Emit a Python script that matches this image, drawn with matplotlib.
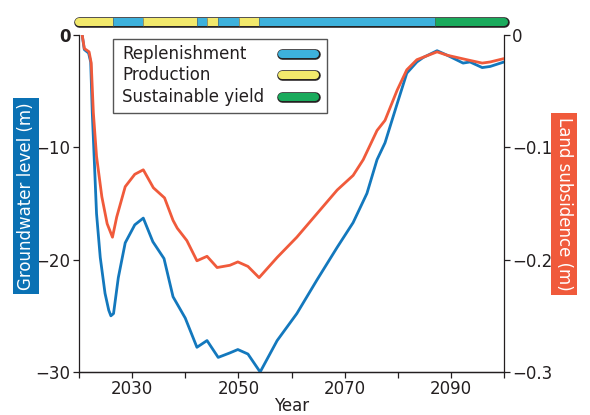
import matplotlib
matplotlib.use("Agg")
import matplotlib.pyplot as plt
from matplotlib.lines import Line2D
from matplotlib.patches import Rectangle

# groundwater level (left axis, m)
gw_year = [2020.6, 2021.0, 2021.8, 2022.2, 2022.5, 2022.9, 2023.3, 2024.0, 2024.9,
           2025.6, 2026.0, 2026.5, 2027.4, 2028.7, 2030.5, 2032.1, 2033.9, 2036.0, 2037.7,
           2040.0, 2042.2, 2044.1, 2046.2, 2048.4, 2049.9, 2051.8, 2054.1, 2057.3,
           2061.0, 2064.8, 2068.6, 2071.6, 2074.2, 2076.1, 2077.6, 2079.9, 2081.7,
           2083.6, 2084.8, 2087.4, 2089.3, 2092.3, 2093.6, 2095.9, 2097.4, 2100.0]
gw_level = [0, -1.3, -1.6, -2.4, -6.9, -11.4, -15.9, -19.8, -23.0,
            -24.5, -25.0, -24.8, -21.6, -18.5, -16.9, -16.3, -18.4, -19.9, -23.3,
            -25.2, -27.8, -27.2, -28.7, -28.3, -28.0, -28.4, -30.0, -27.2,
            -24.8, -21.8, -18.9, -16.7, -14.1, -11.1, -9.6, -6.1, -3.4,
            -2.4, -2.0, -1.4, -1.8, -2.5, -2.4, -2.9, -2.8, -2.4]

# land subsidence (right axis, m)
ls_year = [2020.6, 2021.0, 2021.9, 2022.3, 2022.7, 2023.3, 2024.3, 2025.3, 2026.3,
           2027.1, 2028.7, 2030.5, 2032.1, 2034.0, 2036.1, 2037.7, 2038.5, 2040.3,
           2042.2, 2044.1, 2046.0, 2048.4, 2049.9, 2051.8, 2053.9, 2057.3, 2061.0,
           2064.8, 2068.6, 2071.6, 2073.5, 2076.1, 2077.6, 2079.9, 2081.7, 2083.6,
           2087.4, 2089.3, 2093.0, 2095.9, 2097.4, 2100.0]
ls_depth = [0, -0.012, -0.015, -0.025, -0.069, -0.108, -0.144, -0.168, -0.180,
            -0.162, -0.135, -0.124, -0.120, -0.136, -0.145, -0.165, -0.172, -0.183,
            -0.201, -0.197, -0.207, -0.205, -0.202, -0.206, -0.216, -0.198, -0.180,
            -0.159, -0.138, -0.125, -0.111, -0.085, -0.076, -0.049, -0.031, -0.022,
            -0.015, -0.018, -0.022, -0.025, -0.024, -0.021]

# pumping regime strip above the plot
phase_start = [2020.0, 2026.4, 2032.0, 2042.2, 2044.1, 2046.2, 2050.1, 2053.9, 2087.0]
phase_end = [2026.4, 2032.0, 2042.2, 2044.1, 2046.2, 2050.1, 2053.9, 2087.0, 2100.0]
phase_kind = ["Production", "Replenishment", "Production", "Replenishment", "Production",
              "Replenishment", "Production", "Replenishment", "Sustainable yield"]
legend_kinds = ["Replenishment", "Production", "Sustainable yield"]

x_ticks = [2020, 2030, 2040, 2050, 2060, 2070, 2080, 2090, 2100]
x_labels = ["", "2030", "", "2050", "", "2070", "", "2090", ""]
left_ticks = [0, -10, -20, -30]
left_labels = ["0", "\u221210", "\u221220", "\u221230"]
right_ticks = [0, -0.1, -0.2, -0.3]
right_labels = ["0", "\u22120.1", "\u22120.2", "\u22120.3"]

KIND_COLORS = {"Replenishment": "#3db1dc", "Production": "#f2e96c", "Sustainable yield": "#1aaa5c"}
BLUE = "#1378bd"
RED = "#f05a3b"
INK = "#231f20"

plt.rcParams['font.family'] = ['DejaVu Sans']
plt.rcParams['font.size'] = 12

fig = plt.figure(figsize=(5.9, 4.15), dpi=100)
ax = fig.add_axes([79/590, 1 - 372/415, 425/590, 337/415])
ax2 = ax.twinx()

ax.plot(gw_year, gw_level, color=BLUE, lw=2.0, zorder=3, solid_joinstyle='round')
ax2.plot(ls_year, ls_depth, color=RED, lw=2.0, zorder=4, solid_joinstyle='round')

ax.set_xlim(2020, 2100)
ax.set_ylim(-30, 0)
ax2.set_ylim(-0.3, 0)
ax.set_xticks(x_ticks)
ax.set_xticklabels(x_labels)
ax.set_yticks(left_ticks)
ax.set_yticklabels(left_labels)
ax.get_yticklabels()[0].set_fontweight('bold')
ax2.set_yticks(right_ticks)
ax2.set_yticklabels(right_labels)

for a in (ax, ax2):
    a.spines['top'].set_visible(False)
    for s in a.spines.values():
        s.set_linewidth(0.9)
        s.set_color(INK)
    a.tick_params(direction='out', length=4, width=0.9, color=INK, labelcolor=INK,
                  labelsize=12, pad=2)
ax.spines['right'].set_visible(False)
ax2.spines['left'].set_visible(False)
ax.set_xlabel("Year", fontsize=12, labelpad=-1, color=INK)

# coloured axis titles
fig.text(26/590, 1 - 196/415, "Groundwater level (m)", rotation=90, ha='center', va='center',
         color='white', fontsize=12,
         bbox=dict(boxstyle='square,pad=0.25', fc="#0a71b4", ec='none'))
fig.text(564/590, 1 - 204/415, "Land subsidence (m)", rotation=270, ha='center', va='center',
         color='white', fontsize=12,
         bbox=dict(boxstyle='square,pad=0.25', fc=RED, ec='none'))

# regime strip, drawn in data units above y = 0 on the left axis
ybar = 1.16
ax.add_line(Line2D([2020, 2100], [ybar, ybar], color=INK, lw=7.6,
                   solid_capstyle='round', clip_on=False, zorder=10))
order = [0, len(phase_kind) - 1] + list(range(1, len(phase_kind) - 1))
for i in order:
    cap = 'round' if i in (0, len(phase_kind) - 1) else 'butt'
    ax.add_line(Line2D([phase_start[i], phase_end[i]], [ybar, ybar],
                       color=KIND_COLORS[phase_kind[i]], lw=5.8,
                       solid_capstyle=cap, clip_on=False, zorder=11))
for x in phase_start[1:]:
    ax.add_line(Line2D([x, x], [ybar - 0.35, ybar + 0.35], color="#555555", lw=0.4,
                       clip_on=False, zorder=12))

# legend box with pill swatches
ax.add_patch(Rectangle((0.080, 0.769), 0.504, 0.219, transform=ax.transAxes,
                       fill=False, ec="#555555", lw=1.0, zorder=20))
ax.add_patch(Rectangle((0.080, 0.769), 0.504, 0.219, transform=ax.transAxes,
                       fc='white', ec='none', zorder=5))
rows = [0.944, 0.881, 0.816]
for kind, yy in zip(legend_kinds, rows):
    ax.text(0.101, yy, kind, transform=ax.transAxes, ha='left', va='center',
            fontsize=12, color=INK, zorder=21)
    ax.add_line(Line2D([0.478, 0.555], [yy, yy], transform=ax.transAxes, color=INK,
                       lw=7.6, solid_capstyle='round', zorder=21))
    ax.add_line(Line2D([0.478, 0.555], [yy, yy], transform=ax.transAxes,
                       color=KIND_COLORS[kind], lw=5.8, solid_capstyle='round', zorder=22))

fig.savefig("out.png", dpi=100)
